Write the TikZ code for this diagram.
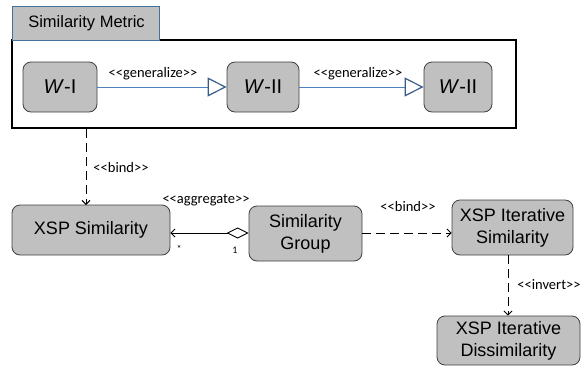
\documentclass[tikz,border=0pt]{standalone}
\usepackage{fontspec}
\setmainfont{Liberation Sans}
\newfontfamily\labfont{Carlito}
\usetikzlibrary{arrows.meta}
\definecolor{boxgray}{HTML}{C0C0C0}
\definecolor{edgegray}{HTML}{404040}
\definecolor{tabblue}{HTML}{41719C}
\definecolor{genline}{HTML}{4F81BD}
\definecolor{genhead}{HTML}{385D8A}
\tikzset{
  box/.style={draw=edgegray, fill=boxgray, rounded corners=8pt, line width=0.8pt,
    align=center, inner sep=0pt, font=\fontsize{18}{22}\selectfont},
  wbox/.style={box, font=\fontsize{20}{24}\selectfont},
  lab/.style={font=\labfont\fontsize{14.5}{16}\selectfont, inner sep=0pt},
  small/.style={font=\labfont\fontsize{10}{11}\selectfont, inner sep=0pt},
  bindline/.style={line width=0.9pt, dash pattern=on 9pt off 5pt,
    -{Straight Barb[length=4pt,width=8pt]}},
  genarrow/.style={draw=genline, line width=1pt,
    -{Triangle[open, length=19pt, width=19pt, color=genhead, line width=1.2pt]}},
}
\begin{document}
\begin{tikzpicture}[x=1pt,y=-1pt]
\useasboundingbox (0,0) rectangle (584,367);
% frame
\node[draw=black, line width=1.6pt, minimum width=504pt, minimum height=88pt, inner sep=0pt] (frame) at (264,84) {};
\node[draw=tabblue, fill=boxgray, line width=0.8pt, minimum width=147pt, minimum height=34pt, inner sep=0pt] (tab) at (85.5,23) {};
\node[font=\fontsize{16.5}{18}\selectfont, inner sep=0pt] (tabtext) at (86.5,23) {Similarity Metric};
% W nodes
\node[wbox, minimum width=74pt, minimum height=50pt] (w1) at (60,87) {\textit{W}-I};
\node[wbox, minimum width=72pt, minimum height=50pt] (w2) at (263,87) {\textit{W}-II};
\node[wbox, minimum width=68pt, minimum height=50pt] (w3) at (458,87) {\textit{W}-II};
\draw[genarrow] (w1) -- (w2);
\draw[genarrow] (w2) -- (w3);
\node[lab] (g1) at (153,74) {<<generalize>>};
\node[lab] (g2) at (358,74) {<<generalize>>};
% lower nodes
\node[box, minimum width=158pt, minimum height=50pt] (xsp) at (91,230) {XSP Similarity};
\node[box, minimum width=113pt, minimum height=55pt] (sg) at (305.5,233.5) {Similarity\\Group};
\node[box, minimum width=121pt, minimum height=55pt] (xis) at (512.5,227.5) {XSP Iterative\\Similarity};
\node[box, minimum width=143pt, minimum height=49pt] (xid) at (508.5,340.5) {XSP Iterative\\Dissimilarity};
% bind from frame
\coordinate (b1) at (86,205);
\draw[bindline] (b1 |- frame.south) -- (b1);
\node[lab] (l1) at (121,168) {<<bind>>};
% aggregate
\draw[line width=0.9pt, {Diamond[open, length=22pt, width=11pt, line width=0.9pt]}-{Straight Barb[length=4pt,width=8pt]}] (sg.west |- 0,233) -- (xsp.east |- 0,233);
\node[lab] (l2) at (206,200) {<<aggregate>>};
\node[small] (m1) at (179,249) {*};
\node[small] (m2) at (235,250) {1};
% bind to iterative
\draw[bindline] (sg.east |- 0,233) -- (xis.west |- 0,233);
\node[lab] (l3) at (408,207) {<<bind>>};
% invert
\coordinate (b2) at (508,316);
\draw[bindline] (b2 |- xis.south) -- (xid.north -| b2);
\node[lab] (l4) at (549,285) {<<invert>>};
\end{tikzpicture}
\end{document}
